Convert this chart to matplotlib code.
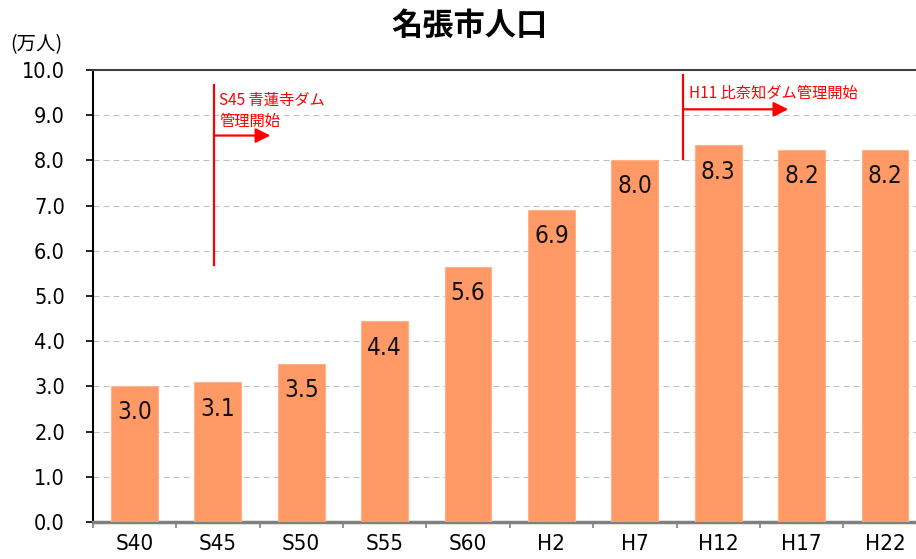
import matplotlib
matplotlib.use("Agg")
import matplotlib.pyplot as plt
from matplotlib.ticker import FixedLocator, NullFormatter
import numpy as np

# 名張市の人口推移（国勢調査）
periods = ["S40", "S45", "S50", "S55", "S60", "H2", "H7", "H12", "H17", "H22"]
population = [3.01, 3.09, 3.50, 4.44, 5.64, 6.90, 8.01, 8.33, 8.23, 8.24]  # 万人
y_ticks = [0.0, 1.0, 2.0, 3.0, 4.0, 5.0, 6.0, 7.0, 8.0, 9.0, 10.0]

BAR_COLOR = "#FF9966"
GRID_COLOR = "#C0C0C0"
NOTE_COLOR = "#FF0000"
NUM_FONT = dict(family="DejaVu Sans", stretch="condensed")
JP_FONT = ["Noto Sans CJK JP", "DejaVu Sans"]

fig = plt.figure(figsize=(9.16, 5.59), dpi=100)
ax = fig.add_axes([0.1012, 0.0662, 0.9105, 0.8086])

x = np.arange(len(periods))
bars = ax.bar(x, population, width=0.56, color=BAR_COLOR,
              edgecolor="#FFB38A", linewidth=0.8, zorder=3)

for xi, val in zip(x, population):
    ax.annotate(f"{val:.1f}", xy=(xi, val), xytext=(0, -19),
                textcoords="offset points", ha="center", va="center",
                fontsize=17.5, color="#111111", zorder=4, **NUM_FONT)

ax.set_xlim(-0.5, len(periods) - 0.5)
ax.set_ylim(0, 10)

# y axis
ax.set_yticks(y_ticks)
ax.set_yticklabels([f"{v:.1f}" for v in y_ticks], fontsize=15.5, **NUM_FONT)
ax.tick_params(axis="y", direction="out", length=5, width=1.2, color="black", pad=15)
for v in y_ticks[1:-1]:
    ax.axhline(v, color=GRID_COLOR, lw=0.75, ls=(0, (5.8, 3.8)), zorder=1)

# x axis: labels at centres, ticks on category boundaries
ax.set_xticks(x)
ax.set_xticklabels(periods, fontsize=16, **NUM_FONT)
ax.tick_params(axis="x", which="major", length=0, pad=9)
ax.xaxis.set_minor_locator(FixedLocator(np.arange(-0.5, len(periods), 1.0)))
ax.xaxis.set_minor_formatter(NullFormatter())
ax.tick_params(axis="x", which="minor", direction="out", length=4, width=1.2, color="#808080")

ax.spines["left"].set_color("black")
ax.spines["left"].set_linewidth(1.5)
ax.spines["bottom"].set_color("#808080")
ax.spines["bottom"].set_linewidth(2.5)
ax.spines["top"].set_color("#404040")
ax.spines["top"].set_linewidth(1.5)
ax.spines["right"].set_visible(False)

# ダム管理開始の注記
ax.plot([0.955, 0.955], [5.68, 9.66], color=NOTE_COLOR, lw=1.6, zorder=5)
ax.annotate("", xy=(1.63, 8.55), xytext=(0.955, 8.55),
            arrowprops=dict(arrowstyle="-|>", color=NOTE_COLOR, lw=1.6,
                            mutation_scale=22, shrinkA=0, shrinkB=0), zorder=5)
ax.text(1.02, 9.32, "S45 青蓮寺ダム", color=NOTE_COLOR, fontsize=11,
        family=JP_FONT, va="center", ha="left", zorder=5)
ax.text(1.02, 8.86, "管理開始", color=NOTE_COLOR, fontsize=11,
        family=JP_FONT, va="center", ha="left", zorder=5)

ax.plot([6.58, 6.58], [8.04, 9.88], color=NOTE_COLOR, lw=1.6, zorder=5)
ax.annotate("", xy=(7.84, 9.13), xytext=(6.58, 9.13),
            arrowprops=dict(arrowstyle="-|>", color=NOTE_COLOR, lw=1.6,
                            mutation_scale=22, shrinkA=0, shrinkB=0), zorder=5)
ax.text(6.65, 9.48, "H11 比奈知ダム管理開始", color=NOTE_COLOR, fontsize=11,
        family=JP_FONT, va="center", ha="left", zorder=5)

fig.text(0.513, 1 - 26 / 559, "名張市人口", fontsize=22.5, fontweight="bold",
         family=JP_FONT, ha="center", va="center")
fig.text(10 / 916, 1 - 45 / 559, "(万人)", fontsize=14, family=JP_FONT,
         ha="left", va="center")

fig.savefig("out.png", dpi=100)
